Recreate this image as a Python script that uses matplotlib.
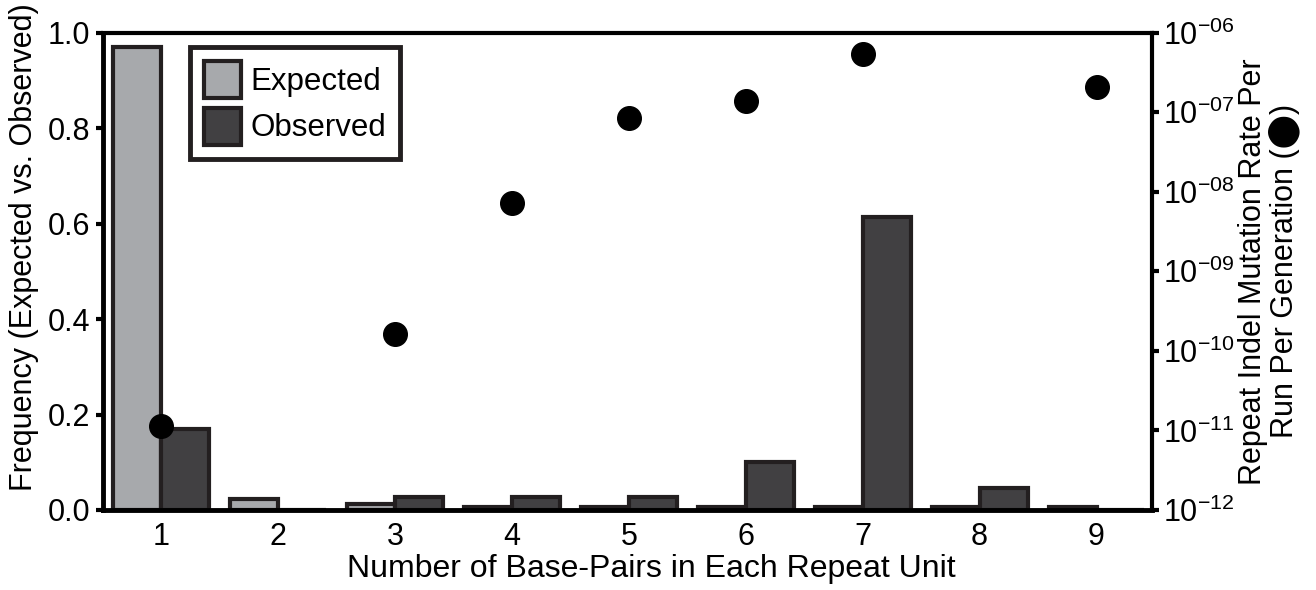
import numpy as np
import matplotlib.pyplot as plt
from matplotlib.ticker import FixedLocator, FixedFormatter, NullLocator

plt.rcParams['font.family'] = ['Liberation Sans', 'DejaVu Sans']
plt.rcParams['mathtext.fontset'] = 'custom'
plt.rcParams['mathtext.rm'] = 'Liberation Sans'

# repeat unit length (bp)
units = [1, 2, 3, 4, 5, 6, 7, 8, 9]
expected = [0.97, 0.023, 0.012, 0.007, 0.007, 0.007, 0.007, 0.007, 0.007]
observed = [0.17, 0.0, 0.027, 0.027, 0.027, 0.1, 0.613, 0.047, 0.0]

# indel mutation rates (no value for 2 and 8)
rate_units = [1, 3, 4, 5, 6, 7, 9]
rates = [1.13e-11, 1.63e-10, 7.2e-9, 8.4e-8, 1.38e-7, 5.4e-7, 2.1e-7]

rate_ticks = [1e-12, 1e-11, 1e-10, 1e-9, 1e-8, 1e-7, 1e-6]
rate_ticklabels = ['10$^{-12}$', '10$^{-11}$', '10$^{-10}$', '10$^{-09}$',
                   '10$^{-08}$', '10$^{-07}$', '10$^{-06}$']

edge = '#231f20'

fig = plt.figure(figsize=(13.16, 5.9), dpi=100)
ax = fig.add_axes([0.078, 0.1356, 0.797, 0.809])

x = np.array(units)
w = 0.41
ax.bar(x - w / 2, expected, width=w, color='#a7a9ac', edgecolor=edge,
       linewidth=3, label='Expected')
ax.bar(x + w / 2, observed, width=w, color='#414042', edgecolor=edge,
       linewidth=3, label='Observed')

ax.set_xlim(0.5, 9.47)
ax.set_ylim(0, 1.0)
ax.set_xticks(units)
ax.set_yticks([0, 0.2, 0.4, 0.6, 0.8, 1.0])
ax.set_yticklabels(['0.0', '0.2', '0.4', '0.6', '0.8', '1.0'])
ax.tick_params(axis='x', length=0, pad=9, labelsize=22)
ax.tick_params(axis='y', length=5, width=3, direction='out', pad=4, labelsize=22)
ax.spines['left'].set_linewidth(3.5)
ax.spines['bottom'].set_linewidth(3.5)
ax.spines['top'].set_linewidth(3)
ax.spines['right'].set_linewidth(3)
for s in ax.spines.values():
    s.set_color('black')

ax.set_xlabel('Number of Base-Pairs in Each Repeat Unit', fontsize=23, labelpad=1)
ax.xaxis.label.set_x(0.523)
ax.set_ylabel('Frequency (Expected vs. Observed)', fontsize=22, labelpad=6)
ax.yaxis.label.set_y(0.55)

leg = ax.legend(loc='upper left', bbox_to_anchor=(0.083, 0.97), fontsize=22.5,
                fancybox=False, framealpha=1, edgecolor=edge,
                handlelength=1.2, handleheight=1.45, handletextpad=0.3,
                labelspacing=0.3, borderpad=0.45, borderaxespad=0)
leg.get_frame().set_linewidth(3.5)

ax2 = ax.twinx()
ax2.set_yscale('log')
ax2.set_ylim(1e-12, 1e-6)
ax2.plot(rate_units, rates, 'o', color='black', markersize=17, linestyle='none')
ax2.yaxis.set_major_locator(FixedLocator(rate_ticks))
ax2.yaxis.set_major_formatter(FixedFormatter(rate_ticklabels))
ax2.yaxis.set_minor_locator(NullLocator())
ax2.tick_params(axis='y', length=5, width=3, direction='out', pad=3, labelsize=22)
for s in ax2.spines.values():
    s.set_visible(False)
ax2.set_ylabel('Repeat Indel Mutation Rate Per\nRun Per Generation (\u2b24)',
               fontsize=22, linespacing=1.0, labelpad=3)

fig.savefig('out.png', dpi=100)
